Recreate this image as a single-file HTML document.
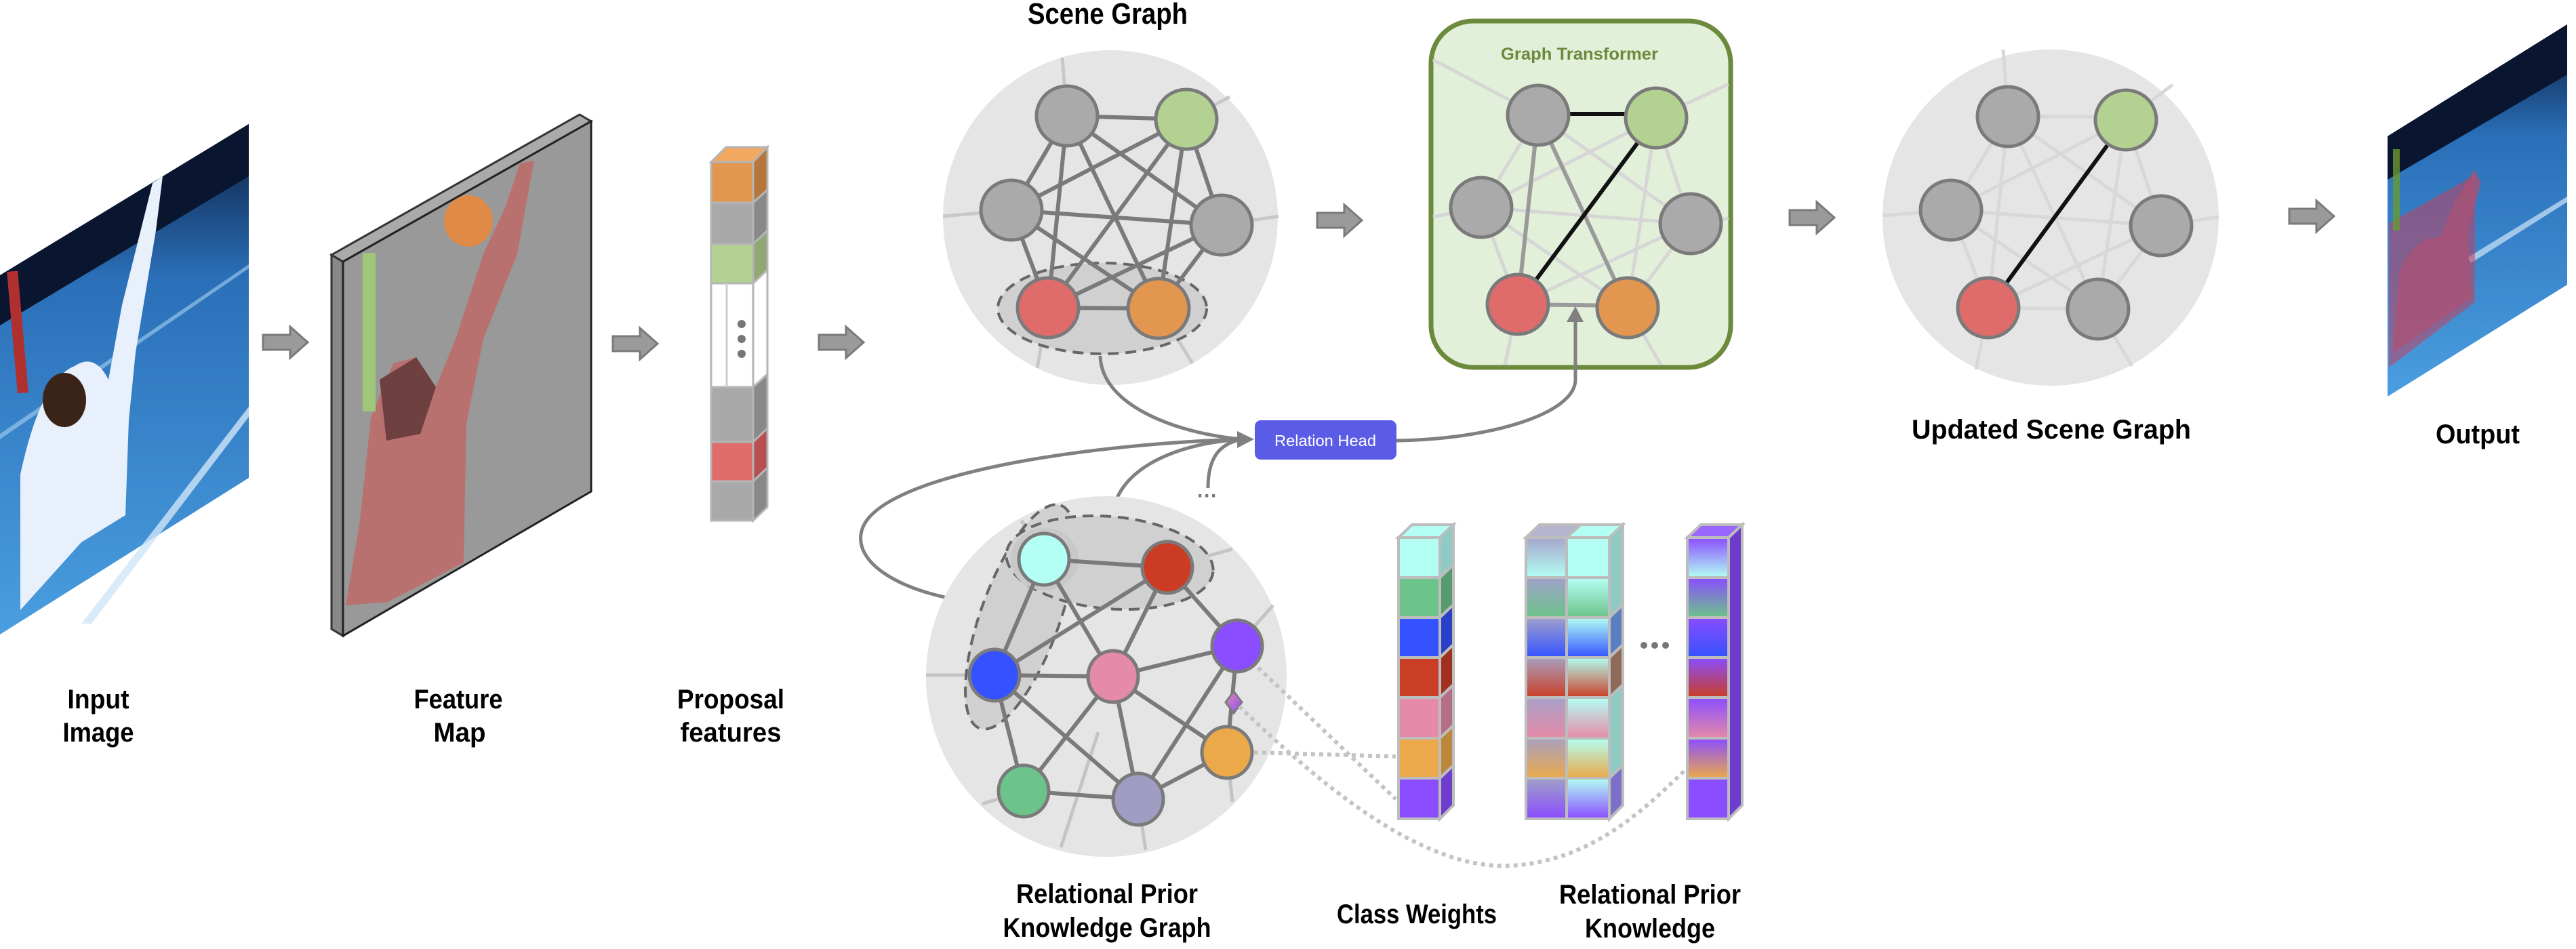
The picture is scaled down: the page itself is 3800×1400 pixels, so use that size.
<!DOCTYPE html>
<html><head><meta charset="utf-8"><style>
html,body{margin:0;padding:0;background:#fff}
svg{display:block}
text{font-family:"Liberation Sans",sans-serif;font-weight:bold}
</style></head><body>
<svg width="3800" height="1400" viewBox="0 0 3800 1400" xmlns="http://www.w3.org/2000/svg">
<defs>
<linearGradient id="sky" x1="0" y1="0" x2="0" y2="1"><stop offset="0" stop-color="#0b1a3a"/><stop offset="0.3" stop-color="#2a6fb8"/><stop offset="1" stop-color="#4a9ee0"/></linearGradient>
<!-- column A gradients -->
<linearGradient id="a1" x1="0" y1="0" x2="0" y2="1"><stop offset="0" stop-color="#a6a6cc"/><stop offset="1" stop-color="#b3fff4"/></linearGradient>
<linearGradient id="a2" x1="0" y1="0" x2="0" y2="1"><stop offset="0" stop-color="#a0a0c8"/><stop offset="1" stop-color="#6cc48a"/></linearGradient>
<linearGradient id="a3" x1="0" y1="0" x2="0" y2="1"><stop offset="0" stop-color="#a0a0cc"/><stop offset="1" stop-color="#3452ff"/></linearGradient>
<linearGradient id="a4" x1="0" y1="0" x2="0" y2="1"><stop offset="0" stop-color="#a8a0c0"/><stop offset="1" stop-color="#c93e25"/></linearGradient>
<linearGradient id="a5" x1="0" y1="0" x2="0" y2="1"><stop offset="0" stop-color="#a8a0c8"/><stop offset="1" stop-color="#e58aa8"/></linearGradient>
<linearGradient id="a6" x1="0" y1="0" x2="0" y2="1"><stop offset="0" stop-color="#a8a0c0"/><stop offset="1" stop-color="#eba94a"/></linearGradient>
<linearGradient id="a7" x1="0" y1="0" x2="0" y2="1"><stop offset="0" stop-color="#a0a0c8"/><stop offset="1" stop-color="#8a4dff"/></linearGradient>
<linearGradient id="b2" x1="0" y1="0" x2="0" y2="1"><stop offset="0" stop-color="#b3fff4"/><stop offset="1" stop-color="#6cc48a"/></linearGradient>
<linearGradient id="b3" x1="0" y1="0" x2="0" y2="1"><stop offset="0" stop-color="#b3fff4"/><stop offset="1" stop-color="#3452ff"/></linearGradient>
<linearGradient id="b4" x1="0" y1="0" x2="0" y2="1"><stop offset="0" stop-color="#b3fff4"/><stop offset="1" stop-color="#c93e25"/></linearGradient>
<linearGradient id="b5" x1="0" y1="0" x2="0" y2="1"><stop offset="0" stop-color="#b3fff4"/><stop offset="1" stop-color="#e58aa8"/></linearGradient>
<linearGradient id="b6" x1="0" y1="0" x2="0" y2="1"><stop offset="0" stop-color="#b3fff4"/><stop offset="1" stop-color="#eba94a"/></linearGradient>
<linearGradient id="b7" x1="0" y1="0" x2="0" y2="1"><stop offset="0" stop-color="#b3fff4"/><stop offset="1" stop-color="#8a4dff"/></linearGradient>
<linearGradient id="c1" x1="0" y1="0" x2="0" y2="1"><stop offset="0" stop-color="#8a4dff"/><stop offset="1" stop-color="#b3fff4"/></linearGradient>
<linearGradient id="c2" x1="0" y1="0" x2="0" y2="1"><stop offset="0" stop-color="#8a4dff"/><stop offset="1" stop-color="#6cc48a"/></linearGradient>
<linearGradient id="c3" x1="0" y1="0" x2="0" y2="1"><stop offset="0" stop-color="#8a4dff"/><stop offset="1" stop-color="#3452ff"/></linearGradient>
<linearGradient id="c4" x1="0" y1="0" x2="0" y2="1"><stop offset="0" stop-color="#8a4dff"/><stop offset="1" stop-color="#c93e25"/></linearGradient>
<linearGradient id="c5" x1="0" y1="0" x2="0" y2="1"><stop offset="0" stop-color="#8a4dff"/><stop offset="1" stop-color="#e58aa8"/></linearGradient>
<linearGradient id="c6" x1="0" y1="0" x2="0" y2="1"><stop offset="0" stop-color="#8a4dff"/><stop offset="1" stop-color="#eba94a"/></linearGradient>
<linearGradient id="dg" x1="0" y1="0" x2="1" y2="1"><stop offset="0" stop-color="#e58aa8"/><stop offset="1" stop-color="#8a4dff"/></linearGradient>
<g id="arr"><polygon points="0,12 40,12 40,0 66,23 40,46 40,34 0,34" fill="#9a9a9a" stroke="#7a7a7a" stroke-width="3"/></g>
</defs>

<!-- Input image -->
<polygon points="0,406 367,183 367,705 0,936" fill="url(#sky)"/>
<polygon points="0,406 367,183 367,260 0,480" fill="#0a1530"/>
<polygon points="120,920 367,600 367,615 135,920" fill="#cfe6f8" opacity="0.8"/>
<polygon points="0,640 367,390 367,396 0,648" fill="#a7d0f0" opacity="0.6"/>
<path d="M30,700 Q60,560 110,540 Q140,520 160,560 L180,450 L225,270 L240,260 L230,340 L200,520 L190,620 L185,760 L120,800 L30,900 Z" fill="#e8f0fb"/>
<ellipse cx="95" cy="590" rx="32" ry="40" fill="#3a2418"/>
<rect x="18" y="400" width="16" height="180" fill="#b03030" transform="rotate(-5 26 490)"/>

<use href="#arr" x="388" y="482"/>

<!-- Feature map -->
<polygon points="489,376 506,386 506,938 489,928" fill="#888" stroke="#333" stroke-width="3"/>
<polygon points="489,376 855,169 872,179 506,386" fill="#aaa" stroke="#333" stroke-width="3"/>
<polygon points="506,386 872,179 872,725 506,938" fill="#999" stroke="#222" stroke-width="3"/>
<polygon points="510,893 531,768 547,616 580,536 614,527 643,571 672,500 713,375 746,304 767,241 788,237 763,375 713,500 688,625 684,830 572,888" fill="#b9716f"/>
<polygon points="560,560 614,527 643,571 620,640 570,650" fill="#6e4040"/>
<rect x="535" y="373" width="19" height="234" fill="#9fc77a"/>
<ellipse cx="691" cy="326" rx="36" ry="38" fill="#e08a48"/>

<use href="#arr" x="904" y="484"/>

<!-- Proposal features -->
<g stroke="#b5b5b5" stroke-width="3">
<polygon points="1049,239 1071,217 1132,217 1111,239" fill="#f2a860"/>
<rect x="1049" y="239" width="62" height="60" fill="#e3964f"/>
<rect x="1049" y="299" width="62" height="61" fill="#a9a9a9"/>
<rect x="1049" y="360" width="62" height="58" fill="#b3d191"/>
<rect x="1049" y="418" width="62" height="153" fill="#fff"/>
<rect x="1049" y="571" width="62" height="81" fill="#a9a9a9"/>
<rect x="1049" y="652" width="62" height="58" fill="#e06b6b"/>
<rect x="1049" y="710" width="62" height="58" fill="#a9a9a9"/>
<polygon points="1111,239 1132,217 1132,280 1111,299" fill="#b7773c"/>
<polygon points="1111,299 1132,280 1132,340 1111,360" fill="#888"/>
<polygon points="1111,360 1132,340 1132,398 1111,418" fill="#8fa874"/>
<polygon points="1111,418 1132,398 1132,552 1111,571" fill="#fff"/>
<polygon points="1111,571 1132,552 1132,632 1111,652" fill="#888"/>
<polygon points="1111,652 1132,632 1132,690 1111,710" fill="#b85050"/>
<polygon points="1111,710 1132,690 1132,748 1111,768" fill="#888"/>
</g>
<line x1="1072" y1="418" x2="1072" y2="571" stroke="#ccc" stroke-width="3"/>
<circle cx="1094" cy="478" r="6" fill="#777"/><circle cx="1094" cy="500" r="6" fill="#777"/><circle cx="1094" cy="522" r="6" fill="#777"/>

<use href="#arr" x="1208" y="482"/>

<!-- Scene Graph -->
<text x="1634" y="35" font-size="44" text-anchor="middle" textLength="236" lengthAdjust="spacingAndGlyphs">Scene Graph</text>
<circle cx="1638" cy="321" r="247" fill="#e5e5e5"/>
<g stroke="#c8c8c8" stroke-width="5">
<line x1="1574" y1="171" x2="1567" y2="85"/><line x1="1750" y1="176" x2="1814" y2="143"/>
<line x1="1492" y1="310" x2="1391" y2="319"/><line x1="1802" y1="332" x2="1886" y2="319"/>
<line x1="1546" y1="454" x2="1530" y2="543"/><line x1="1709" y1="455" x2="1759" y2="536"/>
</g>
<ellipse cx="1626" cy="455" rx="154" ry="67" fill="#d0d0d0" stroke="#666" stroke-width="4" stroke-dasharray="16,10"/>
<g stroke="#7a7a7a" stroke-width="6">
<line x1="1574" y1="171" x2="1750" y2="176"/><line x1="1574" y1="171" x2="1492" y2="310"/><line x1="1574" y1="171" x2="1802" y2="332"/>
<line x1="1574" y1="171" x2="1546" y2="454"/><line x1="1574" y1="171" x2="1709" y2="455"/>
<line x1="1750" y1="176" x2="1492" y2="310"/><line x1="1750" y1="176" x2="1802" y2="332"/><line x1="1750" y1="176" x2="1546" y2="454"/><line x1="1750" y1="176" x2="1709" y2="455"/>
<line x1="1492" y1="310" x2="1802" y2="332"/><line x1="1492" y1="310" x2="1546" y2="454"/><line x1="1492" y1="310" x2="1709" y2="455"/>
<line x1="1802" y1="332" x2="1546" y2="454"/><line x1="1802" y1="332" x2="1709" y2="455"/><line x1="1546" y1="454" x2="1709" y2="455"/>
</g>
<g stroke="#7a7a7a" stroke-width="5">
<ellipse cx="1574" cy="171" rx="45" ry="44" fill="#aaa"/><ellipse cx="1750" cy="176" rx="45" ry="44" fill="#b3d191"/>
<ellipse cx="1492" cy="310" rx="45" ry="44" fill="#aaa"/><ellipse cx="1802" cy="332" rx="45" ry="44" fill="#aaa"/>
<ellipse cx="1546" cy="454" rx="45" ry="44" fill="#e06b6b"/><ellipse cx="1709" cy="455" rx="45" ry="44" fill="#e3964f"/>
</g>

<use href="#arr" x="1943" y="302"/>

<!-- Graph Transformer -->
<rect x="2111" y="31" width="442" height="511" rx="62" fill="#e2efd9" stroke="#6b8a3c" stroke-width="7"/>
<text x="2330" y="88" font-size="25" fill="#6b8a3c" text-anchor="middle" textLength="232" lengthAdjust="spacingAndGlyphs">Graph Transformer</text>
<g stroke="#d6d6d6" stroke-width="5">
<line x1="2269" y1="170" x2="2114" y2="88"/><line x1="2443" y1="174" x2="2550" y2="124"/>
<line x1="2185" y1="306" x2="2114" y2="320"/><line x1="2494" y1="330" x2="2550" y2="322"/>
<line x1="2239" y1="449" x2="2220" y2="538"/><line x1="2401" y1="454" x2="2450" y2="538"/>
<line x1="2269" y1="170" x2="2185" y2="306"/><line x1="2269" y1="170" x2="2494" y2="330"/>
<line x1="2443" y1="174" x2="2185" y2="306"/><line x1="2443" y1="174" x2="2494" y2="330"/><line x1="2443" y1="174" x2="2401" y2="454"/>
<line x1="2185" y1="306" x2="2494" y2="330"/><line x1="2185" y1="306" x2="2239" y2="449"/><line x1="2185" y1="306" x2="2401" y2="454"/>
<line x1="2494" y1="330" x2="2239" y2="449"/><line x1="2494" y1="330" x2="2401" y2="454"/>
</g>
<g stroke="#9a9a9a" stroke-width="6">
<line x1="2269" y1="170" x2="2239" y2="449"/><line x1="2269" y1="170" x2="2401" y2="454"/><line x1="2239" y1="449" x2="2401" y2="451"/>
</g>
<g stroke="#111" stroke-width="6">
<line x1="2269" y1="168" x2="2443" y2="168"/><line x1="2443" y1="174" x2="2239" y2="449"/>
</g>
<g stroke="#7a7a7a" stroke-width="5">
<ellipse cx="2269" cy="170" rx="45" ry="44" fill="#aaa"/><ellipse cx="2443" cy="174" rx="45" ry="44" fill="#b3d191"/>
<ellipse cx="2185" cy="306" rx="45" ry="44" fill="#aaa"/><ellipse cx="2494" cy="330" rx="45" ry="44" fill="#aaa"/>
<ellipse cx="2239" cy="449" rx="45" ry="44" fill="#e06b6b"/><ellipse cx="2401" cy="454" rx="45" ry="44" fill="#e3964f"/>
</g>

<!-- Relation head connectors -->
<g fill="none" stroke="#808080" stroke-width="5">
<path d="M2060,650 C2200,648 2324,610 2324,560 L2324,474"/>
<path d="M1623,525 C1625,600 1740,640 1832,648"/>
<path d="M1434,888 C1330,875 1255,830 1272,780 C1300,700 1600,655 1832,648"/>
<path d="M1641,762 C1645,700 1720,655 1832,648"/>
<path d="M1782,720 C1782,680 1795,655 1832,648"/>
</g>
<polygon points="2311,475 2336,475 2324,452" fill="#808080"/>
<polygon points="1825,636 1825,661 1850,648" fill="#808080"/>
<rect x="1851" y="620" width="209" height="58" rx="9" fill="#5b5ce6"/>
<text x="1955" y="658" font-size="23" fill="#fff" font-weight="normal" text-anchor="middle" style="font-weight:normal" textLength="150" lengthAdjust="spacingAndGlyphs">Relation Head</text>
<text x="1781" y="741" font-size="30" fill="#777" text-anchor="middle">···</text>

<!-- Prior knowledge graph -->
<circle cx="1632" cy="998" r="266" fill="#e5e5e5"/>
<g stroke="#c4c4c4" stroke-width="5">
<line x1="1540" y1="825" x2="1507" y2="768"/><line x1="1722" y1="837" x2="1818" y2="810"/>
<line x1="1825" y1="953" x2="1878" y2="893"/><line x1="1467" y1="996" x2="1366" y2="996"/>
<line x1="1510" y1="1167" x2="1449" y2="1186"/><line x1="1620" y1="1080" x2="1565" y2="1250"/>
<line x1="1679" y1="1179" x2="1690" y2="1254"/><line x1="1810" y1="1110" x2="1818" y2="1183"/>
</g>
<ellipse cx="1505" cy="910" rx="175" ry="58" transform="rotate(-70 1505 910)" fill="#d0d0d0" stroke="#666" stroke-width="4" stroke-dasharray="16,10"/>
<ellipse cx="1637" cy="830" rx="153" ry="68" transform="rotate(5 1637 830)" fill="#d0d0d0" stroke="#666" stroke-width="4" stroke-dasharray="16,10"/>
<ellipse cx="1541" cy="825" rx="50" ry="46" fill="#c8c8c8"/>
<g stroke="#7a7a7a" stroke-width="6">
<line x1="1540" y1="825" x2="1722" y2="837"/><line x1="1540" y1="825" x2="1467" y2="996"/><line x1="1540" y1="825" x2="1642" y2="998"/>
<line x1="1722" y1="837" x2="1467" y2="996"/><line x1="1722" y1="837" x2="1642" y2="998"/><line x1="1722" y1="837" x2="1825" y2="953"/>
<line x1="1467" y1="996" x2="1642" y2="998"/><line x1="1467" y1="996" x2="1510" y2="1167"/><line x1="1467" y1="996" x2="1679" y2="1179"/>
<line x1="1642" y1="998" x2="1825" y2="953"/><line x1="1642" y1="998" x2="1510" y2="1167"/><line x1="1642" y1="998" x2="1679" y2="1179"/><line x1="1642" y1="998" x2="1810" y2="1110"/>
<line x1="1825" y1="953" x2="1679" y2="1179"/><line x1="1825" y1="953" x2="1810" y2="1110"/>
<line x1="1510" y1="1167" x2="1679" y2="1179"/><line x1="1679" y1="1179" x2="1810" y2="1110"/>
</g>
<polygon points="1820,1020 1832,1036 1820,1052 1808,1036" fill="url(#dg)" stroke="#7a7a7a" stroke-width="3"/>
<g stroke="#7a7a7a" stroke-width="5">
<ellipse cx="1540" cy="825" rx="37" ry="38" fill="#b3fff4"/><ellipse cx="1722" cy="837" rx="37" ry="38" fill="#cc3c24"/>
<ellipse cx="1825" cy="953" rx="37" ry="38" fill="#8a4dff"/><ellipse cx="1467" cy="996" rx="37" ry="38" fill="#3452ff"/>
<ellipse cx="1642" cy="998" rx="37" ry="38" fill="#e58aa8"/><ellipse cx="1810" cy="1110" rx="37" ry="38" fill="#eba94a"/>
<ellipse cx="1510" cy="1167" rx="37" ry="38" fill="#6cc48a"/><ellipse cx="1679" cy="1179" rx="37" ry="38" fill="#a09dc3"/>
</g>

<!-- dotted links -->
<g fill="none" stroke="#c4c4c4" stroke-width="6" stroke-dasharray="6,6">
<path d="M1856,985 L2059,1179"/>
<path d="M1850,1110 L2059,1116"/>
<path d="M1828,1042 C1950,1160 2100,1285 2230,1277 C2350,1270 2430,1190 2488,1134"/>
</g>

<!-- Class weights column -->
<g stroke="#bdbdbd" stroke-width="4">
<polygon points="2063,793 2083,774 2144,774 2124,793" fill="#b3fff4"/>
<rect x="2063" y="793" width="61" height="59" fill="#b3fff4"/>
<rect x="2063" y="852" width="61" height="59" fill="#6cc48a"/>
<rect x="2063" y="911" width="61" height="59" fill="#3452ff"/>
<rect x="2063" y="970" width="61" height="59" fill="#c93e25"/>
<rect x="2063" y="1029" width="61" height="60" fill="#e58aa8"/>
<rect x="2063" y="1089" width="61" height="59" fill="#eba94a"/>
<rect x="2063" y="1148" width="61" height="60" fill="#8a4dff"/>
<polygon points="2124,793 2144,774 2144,833 2124,852" fill="#8fcac4"/>
<polygon points="2124,852 2144,833 2144,892 2124,911" fill="#569a6d"/>
<polygon points="2124,911 2144,892 2144,951 2124,970" fill="#2a40c8"/>
<polygon points="2124,970 2144,951 2144,1010 2124,1029" fill="#a03020"/>
<polygon points="2124,1029 2144,1010 2144,1070 2124,1089" fill="#b56e88"/>
<polygon points="2124,1089 2144,1070 2144,1129 2124,1148" fill="#bb873b"/>
<polygon points="2124,1148 2144,1129 2144,1188 2124,1208" fill="#6e3dcc"/>
</g>

<!-- Relational prior knowledge columns -->
<g stroke="#bdbdbd" stroke-width="4">
<polygon points="2251,793 2271,774 2332,774 2311,793" fill="#b5b5d0"/>
<polygon points="2311,793 2332,774 2394,774 2374,793" fill="#b3fff4"/>
<rect x="2251" y="793" width="60" height="59" fill="url(#a1)"/>
<rect x="2251" y="852" width="60" height="59" fill="url(#a2)"/>
<rect x="2251" y="911" width="60" height="59" fill="url(#a3)"/>
<rect x="2251" y="970" width="60" height="59" fill="url(#a4)"/>
<rect x="2251" y="1029" width="60" height="60" fill="url(#a5)"/>
<rect x="2251" y="1089" width="60" height="59" fill="url(#a6)"/>
<rect x="2251" y="1148" width="60" height="60" fill="url(#a7)"/>
<rect x="2311" y="793" width="63" height="59" fill="#b3fff4"/>
<rect x="2311" y="852" width="63" height="59" fill="url(#b2)"/>
<rect x="2311" y="911" width="63" height="59" fill="url(#b3)"/>
<rect x="2311" y="970" width="63" height="59" fill="url(#b4)"/>
<rect x="2311" y="1029" width="63" height="60" fill="url(#b5)"/>
<rect x="2311" y="1089" width="63" height="59" fill="url(#b6)"/>
<rect x="2311" y="1148" width="63" height="60" fill="url(#b7)"/>
<polygon points="2374,793 2394,774 2394,1188 2374,1208" fill="#8fcac4"/>
</g>
<g stroke="#bdbdbd" stroke-width="4">
<polygon points="2374,911 2394,892 2394,951 2374,970" fill="#5a7fc0"/>
<polygon points="2374,970 2394,951 2394,1010 2374,1029" fill="#8f6a5a"/>
<polygon points="2374,1148 2394,1129 2394,1188 2374,1208" fill="#7a70c8"/>
</g>
<circle cx="2425" cy="952" r="5" fill="#777"/><circle cx="2441" cy="952" r="5" fill="#777"/><circle cx="2457" cy="952" r="5" fill="#777"/>
<g stroke="#bdbdbd" stroke-width="4">
<polygon points="2489,793 2509,774 2570,774 2550,793" fill="#9a66ff"/>
<rect x="2489" y="793" width="61" height="59" fill="url(#c1)"/>
<rect x="2489" y="852" width="61" height="59" fill="url(#c2)"/>
<rect x="2489" y="911" width="61" height="59" fill="url(#c3)"/>
<rect x="2489" y="970" width="61" height="59" fill="url(#c4)"/>
<rect x="2489" y="1029" width="61" height="60" fill="url(#c5)"/>
<rect x="2489" y="1089" width="61" height="59" fill="url(#c6)"/>
<rect x="2489" y="1148" width="61" height="60" fill="#8a4dff"/>
<polygon points="2550,793 2570,774 2570,1188 2550,1208" fill="#6e3dcc"/>
</g>

<use href="#arr" x="2640" y="298"/>

<!-- Updated scene graph -->
<circle cx="3025" cy="321" r="248" fill="#e5e5e5"/>
<g stroke="#d8d8d8" stroke-width="5">
<line x1="2962" y1="172" x2="2955" y2="73"/><line x1="3136" y1="177" x2="3205" y2="125"/>
<line x1="2878" y1="310" x2="2777" y2="318"/><line x1="3188" y1="333" x2="3273" y2="320"/>
<line x1="2933" y1="454" x2="2915" y2="545"/><line x1="3095" y1="456" x2="3145" y2="540"/>
<line x1="2962" y1="172" x2="3136" y2="172"/><line x1="2962" y1="172" x2="2878" y2="310"/><line x1="2962" y1="172" x2="3188" y2="333"/>
<line x1="2962" y1="172" x2="2933" y2="454"/><line x1="2962" y1="172" x2="3095" y2="456"/>
<line x1="3136" y1="177" x2="2878" y2="310"/><line x1="3136" y1="177" x2="3188" y2="333"/><line x1="3136" y1="177" x2="3095" y2="456"/>
<line x1="2878" y1="310" x2="3188" y2="333"/><line x1="2878" y1="310" x2="2933" y2="454"/><line x1="2878" y1="310" x2="3095" y2="456"/>
<line x1="3188" y1="333" x2="2933" y2="454"/><line x1="3188" y1="333" x2="3095" y2="456"/><line x1="2933" y1="454" x2="3095" y2="456"/>
</g>
<line x1="3136" y1="177" x2="2933" y2="454" stroke="#111" stroke-width="6"/>
<g stroke="#7a7a7a" stroke-width="5">
<ellipse cx="2962" cy="172" rx="45" ry="44" fill="#aaa"/><ellipse cx="3136" cy="177" rx="45" ry="44" fill="#b3d191"/>
<ellipse cx="2878" cy="310" rx="45" ry="44" fill="#aaa"/><ellipse cx="3188" cy="333" rx="45" ry="44" fill="#aaa"/>
<ellipse cx="2933" cy="454" rx="45" ry="44" fill="#e06b6b"/><ellipse cx="3095" cy="456" rx="45" ry="44" fill="#aaa"/>
</g>

<use href="#arr" x="3377" y="296"/>

<!-- Output image -->
<polygon points="3522,201 3787,36 3787,420 3522,585" fill="url(#sky)"/>
<polygon points="3522,201 3787,36 3787,110 3522,265" fill="#0a1530"/>
<polygon points="3640,380 3787,290 3787,298 3645,388" fill="#cfe6f8" opacity="0.7"/>
<polygon points="3525,330 3650,260 3650,445 3525,540" fill="#c04060" opacity="0.55" stroke="#d04050" stroke-width="2"/>
<path d="M3530,520 L3540,400 Q3560,350 3600,350 L3620,300 L3650,250 L3660,270 L3640,340 L3645,440 L3560,500 Z" fill="#b05070" opacity="0.7"/>
<rect x="3530" y="220" width="10" height="120" fill="#6a9a30" opacity="0.8"/>

<!-- Labels -->
<g font-size="40" text-anchor="middle">
<text x="145" y="1045" textLength="91" lengthAdjust="spacingAndGlyphs">Input</text>
<text x="145" y="1094" textLength="105" lengthAdjust="spacingAndGlyphs">Image</text>
<text x="676" y="1045" textLength="131" lengthAdjust="spacingAndGlyphs">Feature</text>
<text x="678" y="1094" textLength="77" lengthAdjust="spacingAndGlyphs">Map</text>
<text x="1078" y="1045" textLength="158" lengthAdjust="spacingAndGlyphs">Proposal</text>
<text x="1078" y="1094" textLength="149" lengthAdjust="spacingAndGlyphs">features</text>
<text x="1633" y="1332" textLength="268" lengthAdjust="spacingAndGlyphs">Relational Prior</text>
<text x="1633" y="1382" textLength="307" lengthAdjust="spacingAndGlyphs">Knowledge Graph</text>
<text x="2090" y="1362" textLength="236" lengthAdjust="spacingAndGlyphs">Class Weights</text>
<text x="2434" y="1333" textLength="268" lengthAdjust="spacingAndGlyphs">Relational Prior</text>
<text x="2434" y="1383" textLength="192" lengthAdjust="spacingAndGlyphs">Knowledge</text>
<text x="3026" y="647" textLength="412" lengthAdjust="spacingAndGlyphs">Updated Scene Graph</text>
<text x="3655" y="654" textLength="124" lengthAdjust="spacingAndGlyphs">Output</text>
</g>
</svg>
</body></html>
